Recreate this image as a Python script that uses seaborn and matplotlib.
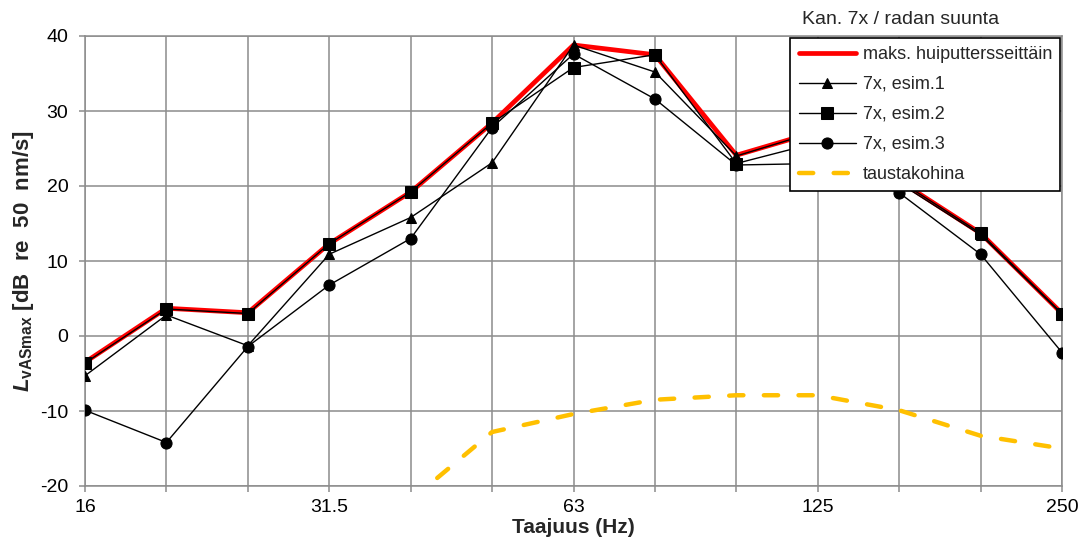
import numpy as np
import pandas as pd
import matplotlib
matplotlib.use("Agg")
import matplotlib.pyplot as plt
import seaborn as sns

# terssikaistat (Hz) ja näkyvät akselin nimiöt
taajuudet = ["16", "20", "25", "31.5", "40", "50", "63", "80", "100", "125", "160", "200", "250"]
nimiot = ["16", "", "", "31.5", "", "", "63", "", "", "125", "", "", "250"]

# L_vASmax [dB re 50 nm/s], luettu kuvasta
maks = [-3.5, 3.7, 3.1, 12.3, 19.2, 28.4, 38.8, 37.5, 24.1, 27.3, 20.7, 13.7, 3.0]
esim1 = [-5.3, 2.8, -1.3, 10.9, 15.8, 23.1, 38.8, 35.2, 24.0, 27.3, 20.4, 13.5, 2.9]
esim2 = [-3.6, 3.6, 3.0, 12.3, 19.2, 28.4, 35.8, 37.5, 23.0, 25.8, 20.7, 13.7, 3.0]
esim3 = [-9.9, -14.2, -1.4, 6.8, 13.0, 27.8, 37.6, 31.6, 22.8, 23.0, 19.1, 10.9, -2.2]
taustakohina = [np.nan, np.nan, np.nan, np.nan, -21.9, -12.8, -10.4, -8.5, -7.9, -7.9, -9.9, -13.3, -15.0]

sns.set_theme(style="white")
plt.rcParams["font.family"] = ["Liberation Sans", "DejaVu Sans"]
plt.rcParams["axes.unicode_minus"] = False
plt.rcParams["mathtext.fontset"] = "custom"
plt.rcParams["mathtext.it"] = "Liberation Sans:italic:bold"
plt.rcParams["mathtext.rm"] = "Liberation Sans:bold"
plt.rcParams["mathtext.bf"] = "Liberation Sans:bold"

df = pd.DataFrame({
    "kaista": np.arange(len(taajuudet)),
    "maks": maks,
    "esim1": esim1,
    "esim2": esim2,
    "esim3": esim3,
    "tausta": taustakohina,
})

fig = plt.figure(figsize=(10.87, 5.58), dpi=100)
ax = fig.add_axes([85 / 1087, 1 - 486 / 558, 977 / 1087, 450 / 558])

sns.lineplot(data=df, x="kaista", y="maks", ax=ax, color="#ff0000", lw=3.4,
             errorbar=None, label="maks. huiputtersseittäin", zorder=2)
sns.lineplot(data=df, x="kaista", y="esim1", ax=ax, color="black", lw=1.0,
             marker="^", markersize=7, markeredgecolor="black",
             errorbar=None, label="7x, esim.1", zorder=3)
sns.lineplot(data=df, x="kaista", y="esim2", ax=ax, color="black", lw=1.0,
             marker="s", markersize=9, markeredgecolor="black",
             errorbar=None, label="7x, esim.2", zorder=3)
sns.lineplot(data=df, x="kaista", y="esim3", ax=ax, color="black", lw=1.0,
             marker="o", markersize=8, markeredgecolor="black",
             errorbar=None, label="7x, esim.3", zorder=3)
sns.lineplot(data=df, x="kaista", y="tausta", ax=ax, color="#ffc000", lw=3.2,
             linestyle=(0, (3.2, 4.6)), dash_capstyle="round",
             errorbar=None, label="taustakohina", zorder=2)

ax.set_xlim(0, len(taajuudet) - 1)
ax.set_ylim(-20, 40)
ax.set_xticks(df["kaista"])
ax.set_xticklabels(nimiot)
ax.set_yticks(np.arange(-20, 41, 10))

harmaa = "#8c8c8c"
ax.grid(True, color=harmaa, lw=1.1)
ax.set_axisbelow(True)
for s in ax.spines.values():
    s.set_color(harmaa)
    s.set_linewidth(1.1)
ax.tick_params(axis="both", direction="out", length=4, width=1.1, color=harmaa,
               labelsize=14, labelcolor="black")
ax.tick_params(axis="x", bottom=True, pad=5)
ax.tick_params(axis="y", left=True, pad=8)

ax.set_xlabel("Taajuus (Hz)", fontsize=15, fontweight="bold", labelpad=2)
ax.set_ylabel(r"$\mathit{L}_{\mathrm{vASmax}}$ [dB  re  50  nm/s]", fontsize=16,
              fontweight="bold", labelpad=3)

leg = ax.legend(loc="upper right", bbox_to_anchor=(1.0, 1.0), borderaxespad=0.1,
                fontsize=13, frameon=True, fancybox=False, framealpha=1,
                edgecolor="black", handlelength=3.2, handletextpad=0.35,
                labelspacing=0.72, borderpad=0.45)
leg.get_frame().set_linewidth(1.2)

fig.text(802 / 1087, 1 - 19 / 558, "Kan. 7x / radan suunta", fontsize=14,
         ha="left", va="center")

fig.savefig("out.png", dpi=100)
